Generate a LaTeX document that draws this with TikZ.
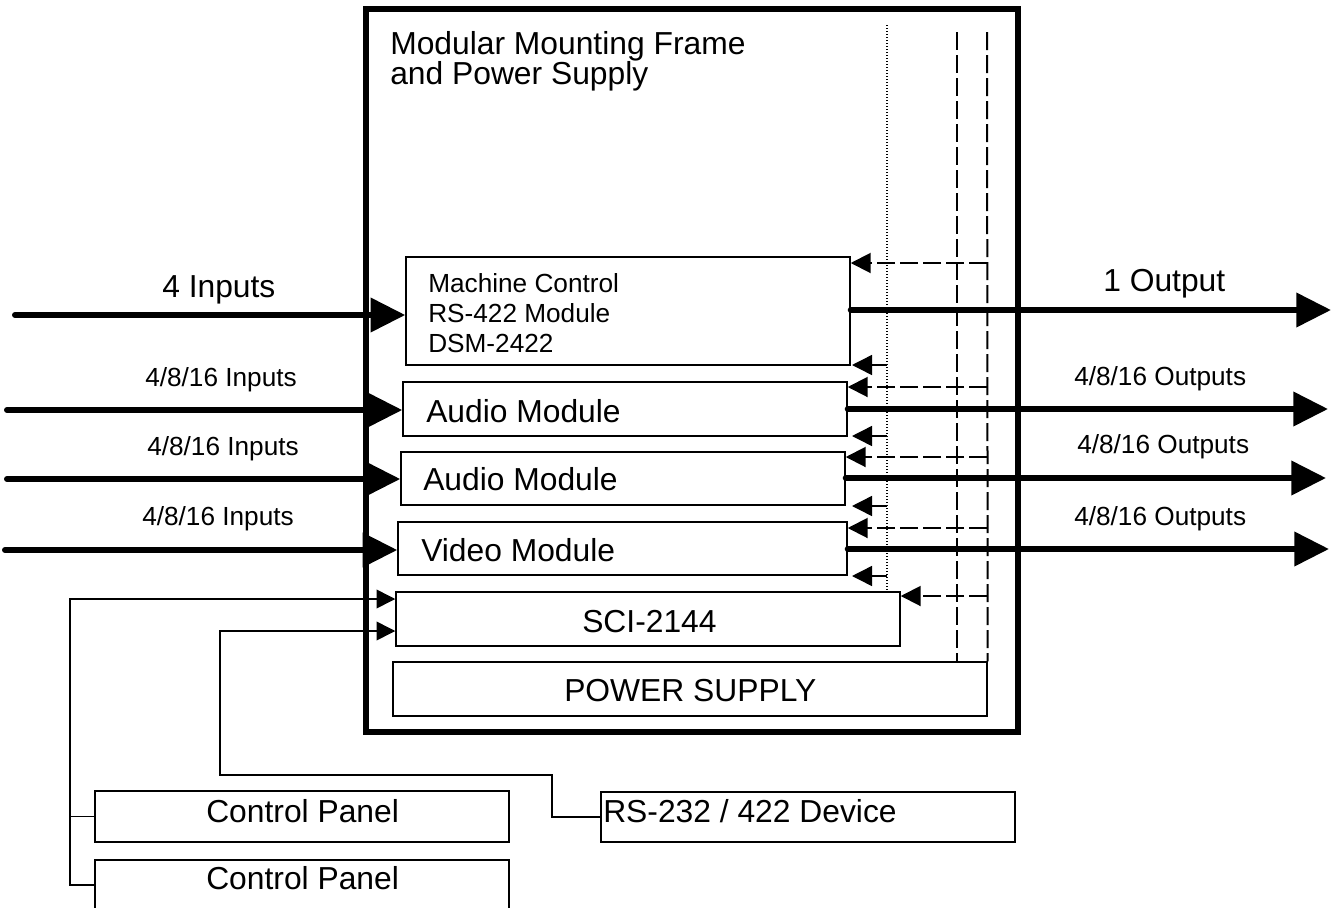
\documentclass[tikz,border=0pt]{standalone}
\usepackage{fontspec}
\setmainfont{Liberation Sans}
\usetikzlibrary{arrows.meta,fit}
\begin{document}
\begin{tikzpicture}[x=0.75pt,y=-0.75pt,
  box/.style={draw, line width=1.1pt, inner sep=0pt},
  frame/.style={draw, line width=4.5pt, inner sep=0pt},
  lbl/.style={anchor=base west, inner sep=0pt, font=\fontsize{23.85}{28}\selectfont},
  slbl/.style={anchor=base west, inner sep=0pt, font=\fontsize{19.65}{23}\selectfont},
  bigarrow/.style={line width=4.5pt, line cap=round, -{Triangle[length=26pt,width=25pt]}},
  solidarrow/.style={line width=1.1pt, -{Triangle[length=15pt,width=15pt]}},
  dasharrow/.style={line width=1.5pt, dash pattern=on 13.5pt off 3.75pt, -{Triangle[length=15pt,width=15pt]}},
  dashline/.style={line width=1.5pt, dash pattern=on 13.5pt off 3.75pt},
  dotline/.style={line width=1pt, dash pattern=on 1pt off 1.25pt},
  wire/.style={line width=1.1pt},
  wirearrow/.style={line width=1.1pt, -{Triangle[length=14pt,width=14pt]}}
]
\useasboundingbox (0,0) rectangle (1335,907);
\clip (0,0) rectangle (1335,907);

% frame
\node[frame, fit={(366,9) (1018,732)}] (frame) {};
\node[lbl] (t1) at (390,54) {Modular Mounting Frame};
\node[lbl] (t2) at (390,84) {and Power Supply};

% modules
\node[box, fit={(406,257) (850,365)}] (mc) {};
\node[slbl] (mct1) at (428,292) {Machine Control};
\node[slbl] (mct2) at (428,322) {RS-422 Module};
\node[slbl] (mct3) at (428,352) {DSM-2422};

\node[box, fit={(403,382) (847,436)}] (a1) {};
\node[lbl] (a1t) at (426,422) {Audio Module};
\node[box, fit={(401,452) (845,505)}] (a2) {};
\node[lbl] (a2t) at (423,490) {Audio Module};
\node[box, fit={(398,522) (847,575)}] (vm) {};
\node[lbl] (vmt) at (421,561) {Video Module};
\node[box, fit={(396,592) (900,646)}] (sci) {};
\node[lbl] (scit) at (582,632) {SCI-2144};
\node[box, fit={(393,662) (987,716)}] (ps) {};
\node[lbl] (pst) at (564,701) {POWER SUPPLY};

% external boxes
\node[box, fit={(95,791) (509,842)}] (cp1) {};
\node[lbl] (cp1t) at (206,822) {Control Panel};
\node[box, fit={(95,860) (509,910)}] (cp2) {};
\node[lbl] (cp2t) at (206,889) {Control Panel};
\node[box, fit={(601,792) (1015,842)}] (rs) {};
\node[lbl] (rst) at (603,822) {RS-232 / 422 Device};

% inputs
\coordinate (in1) at (15,315);
\coordinate (in2) at (7,410);
\coordinate (in3) at (7,479);
\coordinate (in4) at (5,550);
\draw[bigarrow] (in1) -- (in1 -| mc.west);
\draw[bigarrow] (in2) -- (in2 -| a1.west);
\draw[bigarrow] (in3) -- (in3 -| a2.west);
\draw[bigarrow] (in4) -- (in4 -| vm.west);
\node[lbl] (il1) at (162,297) {4 Inputs};
\node[slbl] (il2) at (145,386) {4/8/16 Inputs};
\node[slbl] (il3) at (147,455) {4/8/16 Inputs};
\node[slbl] (il4) at (142,525) {4/8/16 Inputs};

% outputs
\coordinate (out1) at (1331,310);
\coordinate (out2) at (1328,409);
\coordinate (out3) at (1326,478);
\coordinate (out4) at (1329,549);
\draw[bigarrow] (out1 -| mc.east) -- (out1);
\draw[bigarrow] (out2 -| a1.east) -- (out2);
\draw[bigarrow] (out3 -| a2.east) -- (out3);
\draw[bigarrow] (out4 -| vm.east) -- (out4);
\node[lbl] (ol1) at (1103,291) {1 Output};
\node[slbl] (ol2) at (1074,385) {4/8/16 Outputs};
\node[slbl] (ol3) at (1077,453) {4/8/16 Outputs};
\node[slbl] (ol4) at (1074,525) {4/8/16 Outputs};

% internal buses
\coordinate (dtop) at (887,25);
\coordinate (datop) at (957,32);
\coordinate (dbtop) at (987,32);
\draw[dotline] (dtop) -- (dtop |- sci.north);
\draw[dashline] (datop) -- (datop |- ps.north);
\draw[dashline] (dbtop) -- (ps.north east);

% dashed feeds (from outer bus)
\foreach \yy/\tgt in {263/mc, 387/a1, 457/a2, 528/vm, 596/sci}{
  \draw[dasharrow] (987,\yy) -- (\tgt.east |- 0,\yy);
}
% solid feeds (from dotted bus)
\foreach \yy/\tgt in {365/mc, 436/a1, 506/a2, 576/vm}{
  \draw[solidarrow] (887,\yy) -- (852,\yy);
}

% control wiring
\draw[wirearrow] (cp2.west) -- (70,885) -- (70,599) -- (sci.west |- 0,599);
\draw[wire] (cp1.west) -- (70,816.5);
\draw[wirearrow] (rs.west) -- (552,817) -- (552,775) -- (220,775) -- (220,631) -- (sci.west |- 0,631);
\end{tikzpicture}
\end{document}
